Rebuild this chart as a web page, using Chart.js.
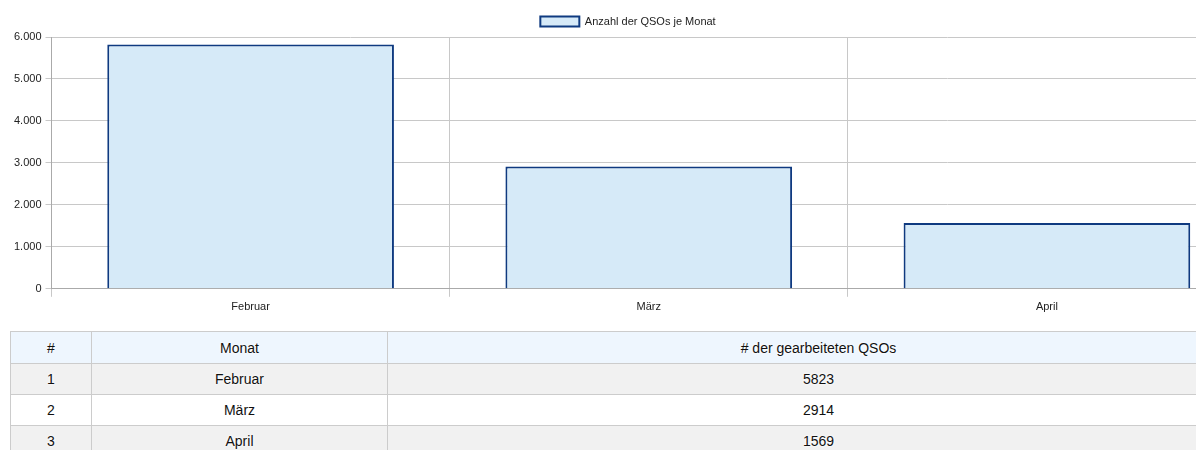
<!DOCTYPE html>
<html>
<head>
<meta charset="utf-8">
<script src="https://cdn.jsdelivr.net/npm/chart.js@4"></script>
<style>
  html, body { margin: 0; padding: 0; background: #fff; overflow: hidden; width: 1196px; height: 450px; }
  #wrap { position: absolute; left: 0; top: 0; width: 1246px; height: 318px; }
  table {
    position: absolute; left: 10px; top: 331px; width: 1240px;
    border-collapse: collapse; font-family: "Liberation Sans", Arial, sans-serif; font-size: 14px; color: #111;
  }
  th, td { border: 1px solid #ccc; text-align: center; height: 30px; padding: 0; text-shadow: 0 0 3px #fff, 0 0 3px #fff; }
  th { background: #eef6fe; font-weight: normal; height: 31px; }
  tbody tr:nth-child(odd) td { background: #f1f1f1; }
  tbody tr:nth-child(even) td { background: #fff; }
</style>
</head>
<body>
<div id="wrap"><canvas id="qsoChart"></canvas></div>
<table id="qsoTable">
  <thead><tr><th style="width:80px">#</th><th style="width:295px">Monat</th><th># der gearbeiteten QSOs</th></tr></thead>
  <tbody></tbody>
</table>
<script>
// Daten
const months = ['Februar', 'März', 'April'];
const qsoCounts = [5823, 2914, 1569];
const yTicks = [0, 1000, 2000, 3000, 4000, 5000, 6000];

// Tabelle unter dem Diagramm
const tbody = document.querySelector('#qsoTable tbody');
months.forEach((m, i) => {
    const tr = document.createElement('tr');
    tr.innerHTML = '<td>' + (i + 1) + '</td><td>' + m + '</td><td>' + qsoCounts[i] + '</td>';
    tbody.appendChild(tr);
});

const ctx = document.getElementById('qsoChart').getContext('2d');
Chart.defaults.font.family = '"Liberation Sans", Arial, sans-serif';
Chart.defaults.color = '#222';

new Chart(ctx, {
    type: 'bar',
    data: {
        labels: months,
        datasets: [{
            label: 'Anzahl der QSOs je Monat',
            data: qsoCounts,
            backgroundColor: '#d6eaf8',
            borderColor: '#0f3a80',
            borderWidth: 2
        }]
    },
    options: {
        locale: 'de-DE',
        responsive: true,
        maintainAspectRatio: false,
        animation: false,
        layout: { padding: { left: 10, top: 6, right: 0 } },
        scales: {
            x: {
                grid: { color: '#c8c8c8', tickLength: 8 },
                border: { color: '#aaa' },
                ticks: { font: { size: 11 }, padding: 4 }
            },
            y: {
                min: 0,
                max: 6000,
                afterBuildTicks: (axis) => { axis.ticks = yTicks.map(v => ({ value: v })); },
                grid: { color: '#c8c8c8', tickLength: 6 },
                border: { color: '#aaa' },
                ticks: { font: { size: 11 }, padding: 4 }
            }
        },
        plugins: {
            legend: {
                labels: { boxWidth: 39, boxHeight: 10, font: { size: 11 }, padding: 10 }
            },
            tooltip: { enabled: false }
        }
    }
});
</script>
</body>
</html>
